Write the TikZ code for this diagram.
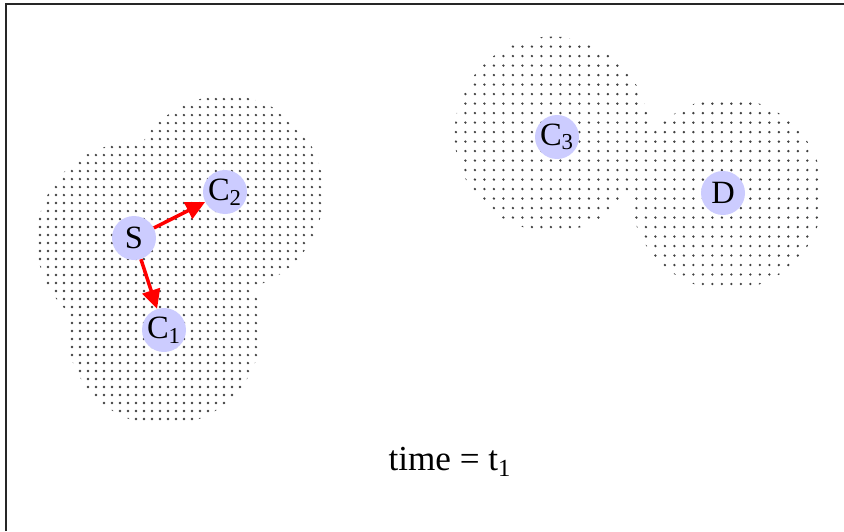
\documentclass[tikz,border=0pt]{standalone}
\usepackage{fontspec}
\setmainfont{Liberation Serif}
\usepackage{tikz}
\usetikzlibrary{arrows.meta, patterns.meta}

\begin{document}
\begin{tikzpicture}[x=0.02cm, y=-0.02cm,
  stn/.style={circle, fill=blue!20, inner sep=0pt, minimum size=0.88cm,
              font=\fontsize{18.5}{21}\selectfont},
  zone/.style={pattern={Dots[distance=0.16cm, radius=0.75pt]}, pattern color=black!75},
  zonewide/.style={pattern={Dots[distance=0.19cm, radius=0.75pt]}, pattern color=black!75},
  arr/.style={-{Triangle[length=0.38cm, width=0.36cm]}, line width=2pt, red}
]
  \useasboundingbox (0,0) rectangle (844,531);
  \draw[line width=1.7pt, black!85] (6,531) -- (6,4) -- (844,4);

  % radio ranges
  \fill[zone] (134,240) circle[radius=1.95cm]
              (226,193) circle[radius=1.95cm]
              (164,328) circle[radius=1.95cm];
  \fill[zonewide] (552,134) circle[radius=1.95cm]
                  (727,194) circle[radius=1.92cm];

  \node[stn] (S)  at (134,238) {S};
  \node[stn] (C2) at (225,192) {C\textsubscript{2}};
  \node[stn] (C1) at (164,330) {C\textsubscript{1}};
  \node[stn] (C3) at (557,137) {C\textsubscript{3}};
  \node[stn] (D)  at (723,193) {D};

  \draw[arr] (S) -- (C2);
  \draw[arr] (S) -- (C1);

  \node[font=\fontsize{20}{23}\selectfont] (lbl) at (450,462) {time = t\textsubscript{1}};
\end{tikzpicture}
\end{document}
